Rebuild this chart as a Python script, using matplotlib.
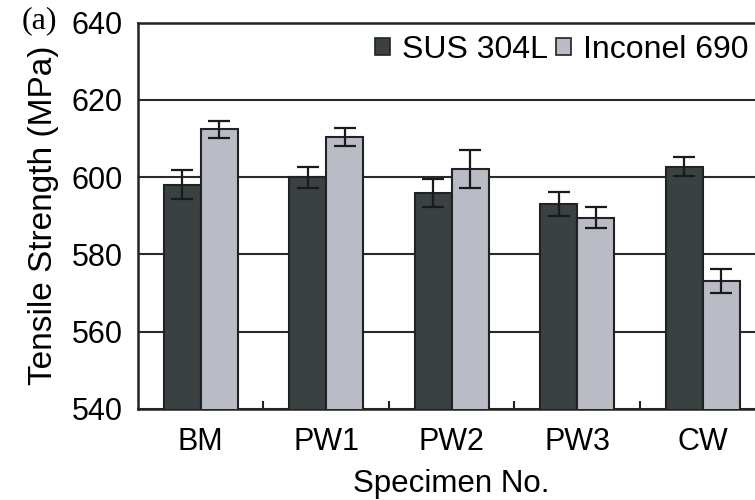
import matplotlib.pyplot as plt
import numpy as np
from matplotlib.patches import Patch

# Tensile strength per specimen, two materials
specimens = ["BM", "PW1", "PW2", "PW3", "CW"]
sus304l = [598.0, 599.9, 595.9, 593.0, 602.7]
sus304l_err = [3.8, 2.7, 3.6, 3.1, 2.5]
inconel690 = [612.4, 610.3, 602.1, 589.5, 573.0]
inconel690_err = [2.2, 2.3, 4.8, 2.8, 3.1]

dark = "#3a4143"
light = "#b9bcc5"
edge = "#222222"

plt.rcParams["font.family"] = ["Liberation Sans", "DejaVu Sans"]

fig = plt.figure(figsize=(7.55, 5.0), dpi=100)
ax = fig.add_axes([0.1828, 0.1826, 0.831, 0.772])

x = np.arange(len(specimens))
w = 0.295
err_kw = dict(ecolor="#1a1a1a", elinewidth=1.6, capsize=8, capthick=1.6)
ax.bar(x - w / 2, sus304l, w, yerr=sus304l_err, color=dark, edgecolor=edge,
       linewidth=1.5, error_kw=err_kw, zorder=3)
ax.bar(x + w / 2, inconel690, w, yerr=inconel690_err, color=light, edgecolor=edge,
       linewidth=1.5, error_kw=err_kw, zorder=3)

ax.set_xlim(-0.5, len(specimens) - 0.5)
ax.set_ylim(540, 640)
ax.set_yticks(np.arange(540, 641, 20))
ax.yaxis.grid(True, color="#2a2a2a", linewidth=1.5, zorder=0)
ax.set_axisbelow(True)

ax.set_xticks(x)
ax.set_xticklabels(specimens)
ax.set_xticks(x[:-1] + 0.5, minor=True)
ax.tick_params(axis="x", which="major", length=0, labelsize=22, pad=13)
ax.tick_params(axis="x", which="minor", direction="in", length=6, width=1.5, color="#222222")
ax.tick_params(axis="y", length=0, labelsize=22, pad=11)

for s in ax.spines.values():
    s.set_linewidth(1.8)
    s.set_color("#222222")

ax.set_xlabel("Specimen No.", fontsize=22.5, labelpad=9)
ax.set_ylabel("Tensile Strength (MPa)", fontsize=24, labelpad=9)

fig.text(0.028, 0.958, "(a)", fontsize=23, family="Liberation Serif", va="center")

handles = [Patch(facecolor=dark, edgecolor=edge, linewidth=1.2),
           Patch(facecolor=light, edgecolor=edge, linewidth=1.2)]
fig.legend(handles, ["SUS 304L", "Inconel 690"], ncol=2, frameon=False,
           loc="center right", bbox_to_anchor=(0.992, 0.9), fontsize=23,
           handlelength=0.45, handleheight=0.45, handletextpad=0.4, columnspacing=0.25,
           borderaxespad=0, borderpad=0)

fig.savefig("out.png", dpi=100)
